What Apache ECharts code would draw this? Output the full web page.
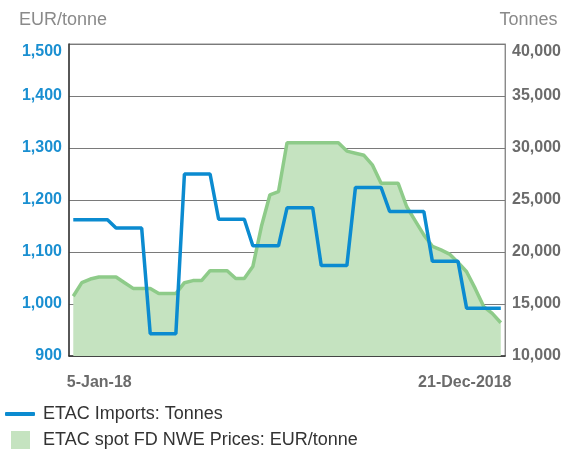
<!DOCTYPE html>
<html lang="en">

<head>
    <meta charset="UTF-8">
    <title>ETAC imports and prices</title>
    <style>
        html,
        body {
            margin: 0;
            padding: 0;
            width: 564px;
            height: 449px;
            background-color: #fff;
        }

        #chart {
            width: 564px;
            height: 449px;
        }
    </style>
</head>

<body>
    <div id="chart"></div>
    <script src="https://cdn.jsdelivr.net/npm/echarts@6/dist/echarts.min.js"></script>
    <script>
        // weekly dates, 2018
        const weeks = [
            '2018-01-05', '2018-01-12', '2018-01-19', '2018-01-26', '2018-02-02', '2018-02-09', '2018-02-16',
            '2018-02-23', '2018-03-02', '2018-03-09', '2018-03-16', '2018-03-23', '2018-03-30', '2018-04-06',
            '2018-04-13', '2018-04-20', '2018-04-27', '2018-05-04', '2018-05-11', '2018-05-18', '2018-05-25',
            '2018-06-01', '2018-06-08', '2018-06-15', '2018-06-22', '2018-06-29', '2018-07-06', '2018-07-13',
            '2018-07-20', '2018-07-27', '2018-08-03', '2018-08-10', '2018-08-17', '2018-08-24', '2018-08-31',
            '2018-09-07', '2018-09-14', '2018-09-21', '2018-09-28', '2018-10-05', '2018-10-12', '2018-10-19',
            '2018-10-26', '2018-11-02', '2018-11-09', '2018-11-16', '2018-11-23', '2018-11-30', '2018-12-07',
            '2018-12-14', '2018-12-21'
        ]
        const xTickLabels = ['5-Jan-18', '21-Dec-2018']

        // EUR/tonne, left axis
        const spotPrices = [
            1015, 1041, 1048, 1052, 1052, 1052, 1041, 1030, 1030, 1030,
            1020, 1020, 1020, 1041, 1045, 1045, 1064, 1064, 1064, 1049,
            1049, 1072, 1149, 1210, 1216, 1310, 1310, 1310, 1310, 1310,
            1310, 1310, 1294, 1290, 1286, 1267, 1232, 1232, 1232, 1187,
            1160, 1133, 1111, 1104, 1096, 1080, 1062, 1030, 995, 982,
            964
        ]

        // tonnes, right axis
        const imports = [
            23100, 23100, 23100, 23100, 23100,
            22300, 22300, 22300, 22300,
            12150, 12150, 12150, 12150,
            27500, 27500, 27500, 27500,
            23150, 23150, 23150, 23150,
            20600, 20600, 20600, 20600,
            24250, 24250, 24250, 24250,
            18700, 18700, 18700, 18700,
            26200, 26200, 26200, 26200,
            23900, 23900, 23900, 23900, 23900,
            19100, 19100, 19100, 19100,
            14600, 14600, 14600, 14600, 14600
        ]

        const font = '"Liberation Sans", Arial, sans-serif'
        const blue = '#0b8bd0'
        const green = '#8ecb89'
        const greenFill = '#c5e3c0'

        const chart = echarts.init(document.getElementById('chart'))

        const yLabel = color => ({
            formatter: v => v.toLocaleString('en-US'),
            margin: 7,
            fontSize: 16,
            fontWeight: 'bold',
            color: color,
            fontFamily: font,
            padding: [0, 0, 6, 0],
            verticalAlignMaxLabel: 'top'
        })

        chart.setOption({
            animation: false,
            textStyle: { fontFamily: font },
            grid: {
                left: 69,
                right: 58,
                top: 44,
                bottom: 93,
                show: true,
                borderColor: '#8a8a8a',
                borderWidth: 1
            },
            legend: [
                {
                    orient: 'vertical',
                    left: 5,
                    top: 405,
                    padding: 0,
                    itemWidth: 30,
                    itemHeight: 4,
                    icon: 'roundRect',
                    data: ['ETAC Imports: Tonnes'],
                    textStyle: { fontSize: 18, color: '#333', fontFamily: font, padding: [0, 0, 0, 3] }
                },
                {
                    orient: 'vertical',
                    left: 11,
                    top: 431,
                    padding: 0,
                    itemWidth: 19,
                    itemHeight: 19,
                    icon: 'rect',
                    data: ['ETAC spot FD NWE Prices: EUR/tonne'],
                    textStyle: { fontSize: 18, color: '#333', fontFamily: font, padding: [0, 0, 0, 8] }
                }
            ],
            xAxis: {
                type: 'category',
                data: weeks,
                boundaryGap: true,
                axisLine: { lineStyle: { color: '#333', width: 1.5 } },
                axisTick: { show: false },
                axisLabel: {
                    interval: i => i === 0 || i === weeks.length - 1,
                    formatter: (v, i) => i === 0 ? '{a|' + xTickLabels[0] + '}' : '{b|' + xTickLabels[1] + '}',
                    margin: 19,
                    rich: {
                        a: { fontSize: 16, fontWeight: 'bold', color: '#6b6b6b', fontFamily: font, padding: [0, 0, 0, 52] },
                        b: { fontSize: 16, fontWeight: 'bold', color: '#6b6b6b', fontFamily: font, padding: [0, 72, 0, 0] }
                    }
                }
            },
            yAxis: [
                {
                    type: 'value',
                    min: 900,
                    max: 1500,
                    interval: 100,
                    name: 'EUR/tonne',
                    nameGap: 15,
                    nameTextStyle: {
                        fontSize: 18,
                        color: '#8a8a8a',
                        align: 'center',
                        padding: [0, 12, 0, 0],
                        fontFamily: font
                    },
                    axisLine: { show: true, lineStyle: { color: '#333', width: 1.5 } },
                    axisTick: { show: false },
                    splitLine: { lineStyle: { color: '#7a7a7a', width: 1 } },
                    axisLabel: yLabel('#1a8fd1')
                },
                {
                    type: 'value',
                    min: 10000,
                    max: 40000,
                    interval: 5000,
                    name: 'Tonnes',
                    nameGap: 15,
                    nameTextStyle: {
                        fontSize: 18,
                        color: '#8a8a8a',
                        align: 'center',
                        padding: [0, 0, 0, 47],
                        fontFamily: font
                    },
                    axisLine: { show: true, lineStyle: { color: '#8a8a8a', width: 1 } },
                    axisTick: { show: false },
                    splitLine: { show: false },
                    axisLabel: yLabel('#6b6b6b')
                }
            ],
            series: [
                {
                    name: 'ETAC spot FD NWE Prices: EUR/tonne',
                    type: 'line',
                    yAxisIndex: 0,
                    data: spotPrices,
                    showSymbol: false,
                    lineStyle: { color: green, width: 3.5 },
                    itemStyle: { color: greenFill },
                    areaStyle: { color: greenFill, opacity: 1 },
                    z: 2
                },
                {
                    name: 'ETAC Imports: Tonnes',
                    type: 'line',
                    yAxisIndex: 1,
                    data: imports,
                    showSymbol: false,
                    lineStyle: { color: blue, width: 3.5 },
                    itemStyle: { color: blue },
                    z: 3
                }
            ]
        })
    </script>
</body>

</html>
